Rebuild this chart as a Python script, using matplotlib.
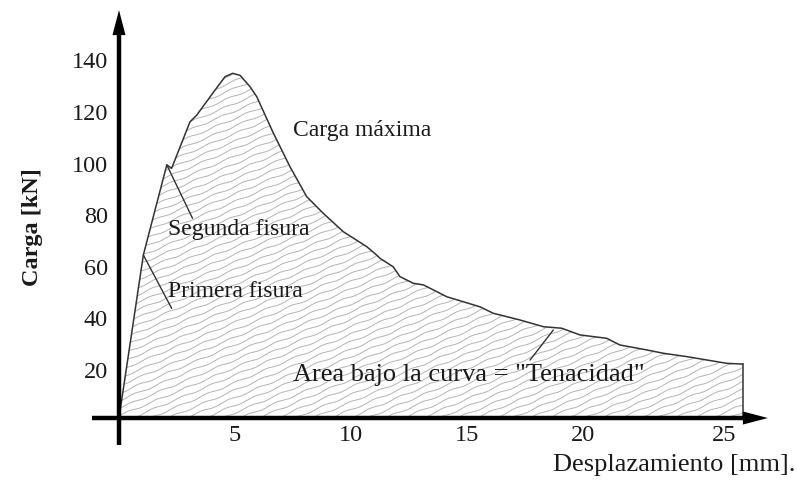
import numpy as np
import matplotlib
matplotlib.use("Agg")
import matplotlib.pyplot as plt
import matplotlib.transforms as mtransforms
from matplotlib.patches import Polygon

# ---- data ----
desplazamiento = [0, 1.05, 2.06, 2.27, 3.06, 3.35, 4.14, 4.57, 4.9, 5.22, 5.65, 5.94,
                  6.65, 7.37, 8.09, 8.81, 9.67, 10.68, 11.1, 11.25, 11.82, 12.11, 12.69,
                  13.12, 14.13, 15.56, 16.13, 17.28, 18.29, 19.08, 19.87, 21.02, 21.59,
                  22.74, 23.46, 24.47, 25.33, 26.19, 26.88]
carga = [0, 63.2, 98.1, 96.8, 114.8, 117.4, 127.1, 132.3, 133.6, 132.8, 128.4, 124.5,
         110.5, 97.4, 85.8, 79.3, 72.2, 66.4, 63.2, 61.9, 58.6, 54.8, 52.2,
         51.6, 47.0, 43.1, 40.6, 38.0, 35.4, 34.8, 32.2, 30.9, 28.3,
         26.4, 25.1, 23.8, 22.5, 21.2, 20.9]
xtick_labels = ["5", "10", "15", "20", "25"]
xtick_pos = [5, 10, 15, 20, 26.1]
ytick_vals = [20, 40, 60, 80, 100, 120, 140]

FONT = "Liberation Serif"
FS = 17
TXT = "#1a1a1a"

fig = plt.figure(figsize=(7.97, 4.87), dpi=100)
ax = fig.add_axes([0, 0, 1, 1])
ax.set_xlim(-5.129, 29.224)
ax.set_ylim(-26.74, 162.02)
fig.patch.set_facecolor("white")
ax.set_facecolor("white")

# area under the curve
x = np.array(desplazamiento)
y = np.array(carga)
verts = np.column_stack([np.append(x, x[-1]), np.append(y, 0)])
poly = Polygon(verts, closed=True, fc="white", ec="none", zorder=1)
ax.add_patch(poly)

# wavy hatch lines clipped to the area
slope = 3.75
xs = np.linspace(-0.5, 28, 1400)
for c in np.arange(-40, 28, 0.78):
    yy = slope * (xs - c) + 0.35 * np.sin(2 * np.pi * xs / 1.25 + c)
    ln, = ax.plot(xs, yy, color="#b4b4b4", lw=0.7, zorder=2)
    ln.set_clip_path(poly)

# curve outline
ax.plot(x, y, color="#333333", lw=1.1, zorder=3)
ax.plot([x[-1], x[-1]], [y[-1], 0], color="#333333", lw=1.1, zorder=3)

# axes as thick lines with arrow heads
for side in ["top", "right"]:
    ax.spines[side].set_visible(False)
ax.spines["left"].set_position(("data", 0))
ax.spines["bottom"].set_position(("data", 0))
ax.spines["left"].set_bounds(-10.5, 149)
ax.spines["bottom"].set_bounds(-1.16, 27.0)
for side in ["left", "bottom"]:
    ax.spines[side].set_linewidth(3.2)
    ax.spines[side].set_color("black")
    ax.spines[side].set_zorder(5)
    ax.spines[side].set_capstyle("butt")

ap = dict(arrowstyle="-|>,head_length=1.8,head_width=0.47", mutation_scale=10,
          fc="black", ec="none", lw=0, shrinkA=0, shrinkB=0)
ax.annotate("", xy=(0, 158.1), xytext=(0, 145), arrowprops=ap, zorder=6)
ax.annotate("", xy=(27.97, 0), xytext=(26.0, 0), arrowprops=ap, zorder=6)

ax.set_xticks(xtick_pos, labels=xtick_labels)
ax.set_yticks(ytick_vals, labels=[str(v) for v in ytick_vals])
ax.tick_params(axis="both", length=0, labelsize=17.5, labelcolor=TXT)
ax.tick_params(axis="x", pad=5)
ax.tick_params(axis="y", pad=8)
shift = mtransforms.ScaledTranslation(0, -3.5 / 100, fig.dpi_scale_trans)
for lab in ax.get_xticklabels():
    lab.set_fontfamily(FONT)
for lab in ax.get_yticklabels():
    lab.set_fontfamily(FONT)
    lab.set_transform(lab.get_transform() + shift)

ax.set_ylabel("Carga [kN]", fontfamily=FONT, fontsize=17.5, fontweight="bold", color=TXT)
ax.yaxis.set_label_coords(0.054, 0.534)
ax.set_xlabel("Desplazamiento [mm].", fontfamily=FONT, fontsize=19, color=TXT)
ax.xaxis.label.set_ha("right")
ax.xaxis.label.set_va("center")
ax.xaxis.set_label_coords(0.998, 0.045)

# annotations
tk = dict(fontfamily=FONT, color=TXT, ha="left", va="center", zorder=7)
ax.text(7.5, 111.6, "Carga máxima", fontsize=FS, **tk)
ax.text(2.11, 72.9, "Segunda fisura", fontsize=FS, **tk)
ax.text(2.11, 49.0, "Primera fisura", fontsize=FS, **tk)
ax.text(7.52, 16.7, "Area bajo la curva = \"Tenacidad\"", fontsize=19, **tk)

lp = dict(arrowstyle="-", color="#333333", lw=1.0, shrinkA=0, shrinkB=0)
ax.annotate("", xy=(x[1], y[1]), xytext=(2.27, 42.5), arrowprops=lp, zorder=4)
ax.annotate("", xy=(x[2], y[2]), xytext=(3.17, 77.4), arrowprops=lp, zorder=4)
ax.annotate("", xy=(18.72, 34.1), xytext=(17.72, 22.5), arrowprops=lp, zorder=4)

fig.savefig("out.png", dpi=100, facecolor="white")
